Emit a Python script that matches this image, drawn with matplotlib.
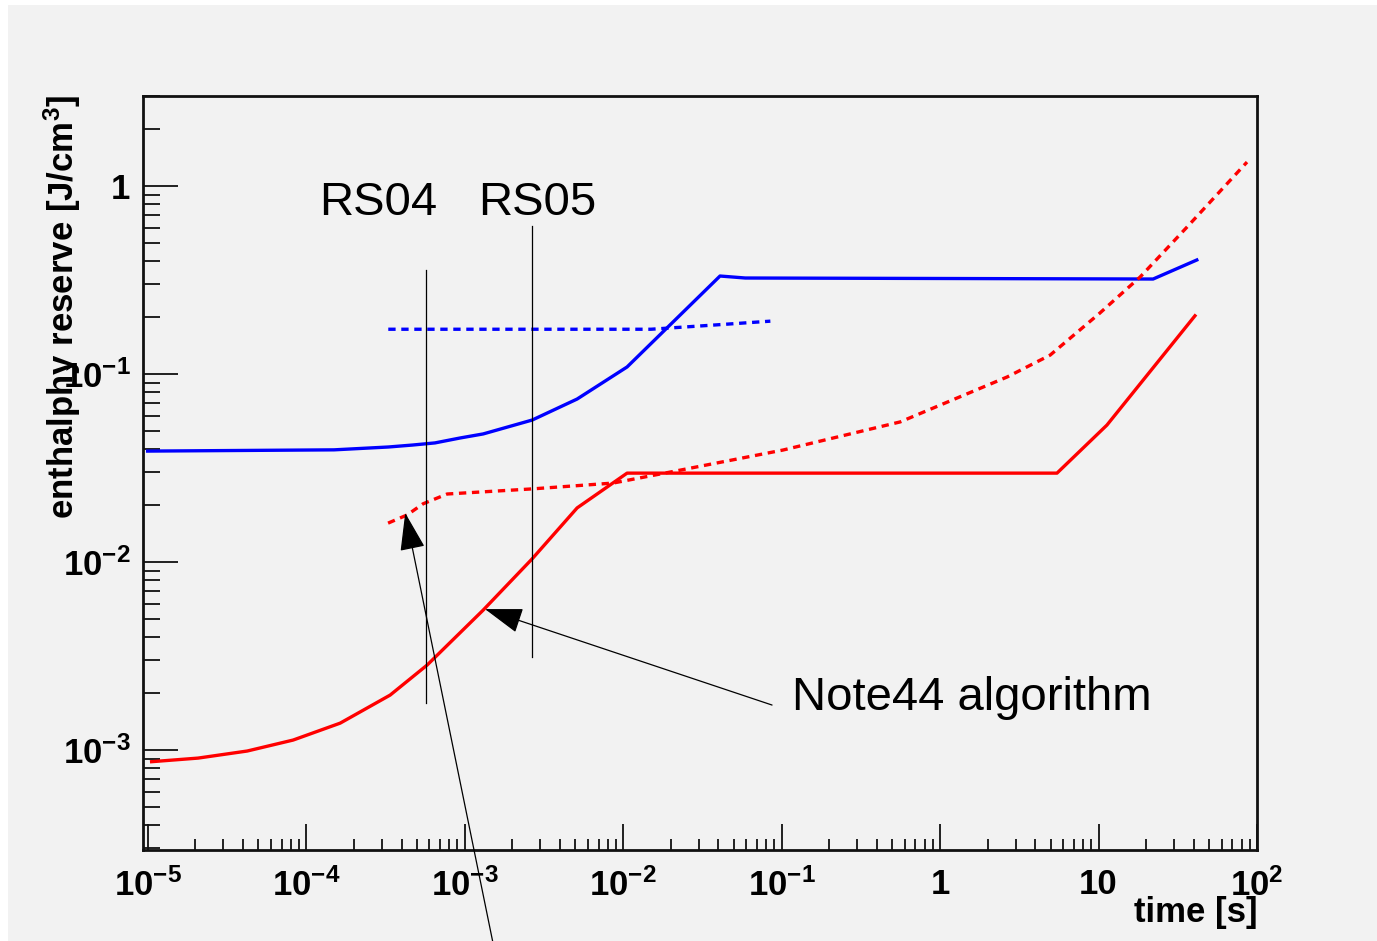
import matplotlib
matplotlib.use("Agg")
import matplotlib.pyplot as plt
from matplotlib.patches import Rectangle
from matplotlib.ticker import FixedLocator, FixedFormatter, LogLocator, NullFormatter

plt.rcParams['font.family'] = ['Liberation Sans', 'DejaVu Sans']
plt.rcParams['mathtext.fontset'] = 'custom'
plt.rcParams['mathtext.rm'] = 'Liberation Sans:bold'
plt.rcParams['mathtext.bf'] = 'Liberation Sans:bold'
plt.rcParams['mathtext.it'] = 'Liberation Sans:bold'

# data (time in s, enthalpy reserve in J/cm3)
blue_t = [1.0e-5, 1.5e-4, 3.3e-4, 4.7e-4, 6.5e-4, 9.4e-4, 1.31e-3, 2.67e-3,
          5.13e-3, 1.06e-2, 4.09e-2, 5.9e-2, 22.1, 41.7]
blue_v = [0.0389, 0.0395, 0.0409, 0.0419, 0.043, 0.0457, 0.048, 0.0569,
          0.0736, 0.109, 0.332, 0.324, 0.32, 0.404]

blue_dash_t = [3.3e-4, 1.0e-3, 1.5e-2, 3.7e-2, 8.5e-2]
blue_dash_v = [0.173, 0.173, 0.173, 0.182, 0.191]

red_t = [1.06e-5, 2.08e-5, 4.25e-5, 8.28e-5, 1.64e-4, 3.39e-4, 5.8e-4,
         1.31e-3, 2.67e-3, 5.13e-3, 1.06e-2, 5.47, 11.3, 40.6]
red_v = [8.67e-4, 9.06e-4, 9.88e-4, 1.13e-3, 1.39e-3, 1.96e-3, 2.83e-3,
         5.55e-3, 1.04e-2, 1.94e-2, 2.97e-2, 2.97e-2, 5.35e-2, 0.204]

red_dash_t = [3.29e-4, 4.34e-4, 5.47e-4, 7.76e-4, 2.7e-3, 8.65e-3, 2.29e-2,
              0.102, 0.56, 2.65, 4.95, 10.2, 18.3, 36.2, 86.5]
red_dash_v = [0.0161, 0.0178, 0.0204, 0.023, 0.0245, 0.0263, 0.0308,
              0.0394, 0.0556, 0.0964, 0.126, 0.211, 0.328, 0.605, 1.34]

x_ticks = [1e-5, 1e-4, 1e-3, 1e-2, 1e-1, 1, 10, 100]
x_tick_labels = ['$10^{-5}$', '$10^{-4}$', '$10^{-3}$', '$10^{-2}$',
                 '$10^{-1}$', '1', '10', '$10^{2}$']
y_ticks = [1e-3, 1e-2, 1e-1, 1]
y_tick_labels = ['$10^{-3}$', '$10^{-2}$', '$10^{-1}$', '1']

# marker lines for the two runs
rs_names = ['RS04', 'RS05']
rs_t = [5.73e-4, 2.67e-3]
rs_lo = [1.78e-3, 3.12e-3]
rs_hi = [0.357, 0.613]

bg = '#f2f2f2'
fig = plt.figure(figsize=(13.77, 9.41), dpi=100, facecolor='white')
fig.patches.append(Rectangle((8 / 1377, 0), 1, 1 - 5 / 941, transform=fig.transFigure,
                             facecolor=bg, edgecolor='none', zorder=-10))
ax = fig.add_axes([143 / 1377, 1 - 850 / 941, 1114 / 1377, 754 / 941])
ax.set_facecolor(bg)

ax.plot(blue_t, blue_v, color='#0000ff', lw=2.4)
ax.plot(blue_dash_t, blue_dash_v, color='#0000ff', lw=2.4, ls=(0, (2.2, 1.7)))
ax.plot(red_t, red_v, color='#ff0000', lw=2.4)
ax.plot(red_dash_t, red_dash_v, color='#ff0000', lw=2.4, ls=(0, (2.2, 1.7)))

ax.set_xscale('log')
ax.set_yscale('log')
ax.set_xlim(9.35e-6, 100)
ax.set_ylim(2.94e-4, 3.01)

ax.xaxis.set_major_locator(FixedLocator(x_ticks))
ax.xaxis.set_major_formatter(FixedFormatter(x_tick_labels))
ax.yaxis.set_major_locator(FixedLocator(y_ticks))
ax.yaxis.set_major_formatter(FixedFormatter(y_tick_labels))
for axis in (ax.xaxis, ax.yaxis):
    axis.set_minor_locator(LogLocator(base=10, subs=range(2, 10), numticks=20))
    axis.set_minor_formatter(NullFormatter())

ax.tick_params(which='both', direction='in', top=False, right=False, color='#111111', width=1.3)
ax.tick_params(axis='x', which='major', length=19, pad=13, labelsize=25)
ax.tick_params(axis='x', which='minor', length=8)
ax.tick_params(axis='y', which='major', length=25, pad=9, labelsize=25)
ax.tick_params(axis='y', which='minor', length=12)
for lab in ax.get_xticklabels() + ax.get_yticklabels():
    lab.set_fontweight('bold')
for sp in ax.spines.values():
    sp.set_linewidth(2)
    sp.set_color('#111111')

fig.text(62 / 1377, 1 - 95 / 941, r'enthalphy reserve [J/cm$^{3}$]', rotation=90,
         ha='center', va='top', fontsize=25, fontweight='bold')
fig.text(1258 / 1377, 1 - 922 / 941, 'time [s]', ha='right', va='baseline',
         fontsize=25, fontweight='bold')

for name, t, lo, hi in zip(rs_names, rs_t, rs_lo, rs_hi):
    ax.plot([t, t], [lo, hi], color='black', lw=0.9)
ax.text(1.2e-4, 0.701, rs_names[0], fontsize=34, va='baseline')
ax.text(1.22e-3, 0.701, rs_names[1], fontsize=34, va='baseline')

ax.text(0.1164, 1.63e-3, 'Note44 algorithm', fontsize=34, va='baseline')
arrow = dict(arrowstyle='-|>,head_length=1.2,head_width=0.4', mutation_scale=20,
             color='black', lw=0.9, shrinkA=0, shrinkB=0)
ax.annotate('', xy=(1.345e-3, 5.62e-3), xytext=(0.0871, 1.735e-3), arrowprops=arrow)
ax.annotate('', xy=(4.22e-4, 0.01823), xycoords='data', xytext=(493, -2),
            textcoords='figure pixels', arrowprops=arrow, annotation_clip=False)

fig.savefig('out.png', dpi=100, facecolor=fig.get_facecolor())
